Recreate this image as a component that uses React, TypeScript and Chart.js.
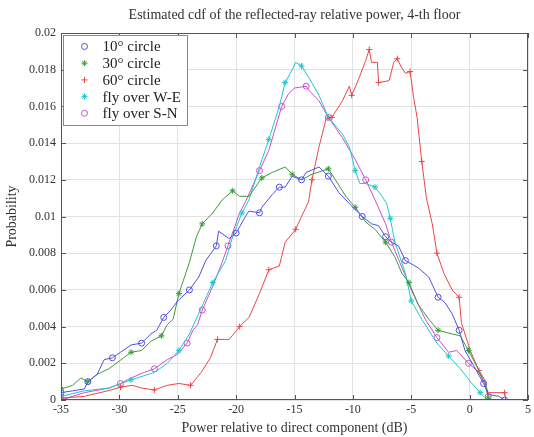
import React, { useEffect, useRef } from 'react';
import { Chart, registerables } from 'chart.js';

Chart.register(...registerables);

const titleText = 'Estimated cdf of the reflected-ray relative power, 4-th floor';
const xTitle = 'Power relative to direct component (dB)';
const yTitle = 'Probability';
const seriesNames = ['10\u00B0 circle', '30\u00B0 circle', '60\u00B0 circle', 'fly over W-E', 'fly over S-N'];
const seriesColors = ['rgb(80,80,230)', 'rgb(60,155,60)', 'rgb(235,70,70)', 'rgb(30,200,205)', 'rgb(200,80,210)'];
const seriesMarkers = ['circle', 'star', 'cross', 'star', 'circle'];

const xTicks = [-35, -30, -25, -20, -15, -10, -5, 0, 5];
const yTicks = [0, 0.002, 0.004, 0.006, 0.008, 0.01, 0.012, 0.014, 0.016, 0.018, 0.02];

// 10° circle
const blueX = [-35, -34, -33, -32.7, -31.9, -31.3, -30.6, -29.9, -29, -28.1, -27.3, -26.8, -26.2, -25.6, -25, -24, -23.2, -22.6, -21.7, -21.5, -20.6, -20, -19.2, -18.9, -18, -17.8, -16.9, -16.3, -15.8, -15.2, -14.4, -14, -12.9, -12.1, -11.2, -10.3, -9.2, -8.4, -7.8, -7.2, -6.7, -6.1, -5.5, -4.4, -3.5, -2.7, -2.1, -1.5, -0.9, -0.4, 0.5, 1.2, 1.6, 2.5, 3];
const blueY = [0.0004, 0.0005, 0.0006, 0.001, 0.0014, 0.0022, 0.0023, 0.0026, 0.003, 0.0031, 0.0036, 0.0038, 0.0045, 0.0049, 0.0054, 0.006, 0.0067, 0.0076, 0.0084, 0.0092, 0.0088, 0.0091, 0.01, 0.0103, 0.0102, 0.0105, 0.0112, 0.0116, 0.0116, 0.0122, 0.012, 0.0124, 0.0127, 0.0122, 0.0113, 0.0107, 0.01, 0.0096, 0.0095, 0.0089, 0.0086, 0.0084, 0.0076, 0.0072, 0.0067, 0.0056, 0.0053, 0.0047, 0.0038, 0.0027, 0.0017, 0.0009, 0.0003, 0.0002, 0];

// 30° circle
const greenX = [-35, -34, -33.3, -32.7, -31.9, -30.9, -29, -28.1, -27.3, -26.4, -25.9, -25.4, -24.9, -24, -23.4, -22.9, -22, -21.2, -20.3, -19.7, -18.9, -17.8, -16.9, -15.8, -15.2, -14.4, -13.5, -12.1, -11.5, -10.6, -9.8, -8.9, -8.1, -7.2, -6.4, -5.8, -5.2, -4.4, -3.5, -2.7, -1.5, -0.8, -0.1, 0.8, 1.3, 1.6];
const greenY = [0.0006, 0.0008, 0.0012, 0.001, 0.0014, 0.0017, 0.0026, 0.0027, 0.0032, 0.0035, 0.0041, 0.0044, 0.0058, 0.0075, 0.0089, 0.0096, 0.0102, 0.0109, 0.0114, 0.0111, 0.0111, 0.0121, 0.0124, 0.0127, 0.0123, 0.012, 0.0123, 0.0126, 0.012, 0.0111, 0.0105, 0.0097, 0.0093, 0.0086, 0.0078, 0.0069, 0.0064, 0.0052, 0.0044, 0.0038, 0.0036, 0.0035, 0.0027, 0.0016, 0.0011, 0.0001];

// 60° circle
const redX = [-35, -33, -31, -29.9, -28.9, -28.1, -27, -25.9, -24.9, -23.9, -23, -22.2, -21.6, -21, -20.6, -19.7, -18.9, -18, -17.2, -16.3, -15.8, -14.9, -14.4, -13.8, -13.5, -12.9, -12.3, -11.8, -10.9, -10.3, -10.1, -9.5, -8.9, -8.6, -8.4, -7.9, -7.8, -6.9, -6.5, -6.2, -5.9, -5.5, -5.1, -4.8, -4.5, -4.1, -3.7, -3.2, -2.8, -2.2, -1.5, -0.9, -0.7, 0.05, 0.8, 1.3, 1.6, 3, 3.1];
const redY = [0.0001, 0.0002, 0.0005, 0.0007, 0.0008, 0.00065, 0.00055, 0.0008, 0.0009, 0.0008, 0.0015, 0.0023, 0.0033, 0.0033, 0.0033, 0.004, 0.0045, 0.0058, 0.0071, 0.0073, 0.0086, 0.0093, 0.01, 0.0108, 0.012, 0.0138, 0.0153, 0.0154, 0.0163, 0.0171, 0.0166, 0.0175, 0.0185, 0.0191, 0.0184, 0.0184, 0.0173, 0.0174, 0.0184, 0.0186, 0.0182, 0.0178, 0.0179, 0.0165, 0.0154, 0.013, 0.011, 0.0096, 0.008, 0.0069, 0.006, 0.0056, 0.0042, 0.0027, 0.0016, 0.0009, 0.0004, 0.0004, 0];

// fly over W-E
const cyanX = [-35, -33, -30.9, -29, -27, -25.9, -24.9, -24, -23, -22, -20.9, -20.3, -19.5, -18.9, -18, -17.2, -16.6, -16.3, -15.8, -15.2, -14.9, -14.4, -13.8, -12.9, -12.1, -10.9, -10.3, -9.8, -9.4, -8.9, -8.1, -7.5, -7.1, -6.8, -6.4, -5.5, -5, -4.1, -2.8, -1.8, -0.8, 0.2, 0.9, 1.2, 1.5];
const cyanY = [0.0002, 0.0005, 0.00065, 0.0011, 0.0015, 0.002, 0.0027, 0.0036, 0.005, 0.0064, 0.0076, 0.0089, 0.0102, 0.0109, 0.0127, 0.0142, 0.0154, 0.016, 0.0173, 0.018, 0.0184, 0.0182, 0.0176, 0.0166, 0.0154, 0.0145, 0.0138, 0.0125, 0.0118, 0.0118, 0.0116, 0.0111, 0.0107, 0.0099, 0.0086, 0.0069, 0.0054, 0.0044, 0.0031, 0.0024, 0.0017, 0.0009, 0.0004, 0.0002, 0];

// fly over S-N
const magentaX = [-35, -33, -30.9, -29.9, -29, -27.9, -27, -25.9, -25, -24.2, -23.7, -23.3, -22.9, -22, -21.2, -20.7, -19.7, -19.2, -18, -17.2, -16.6, -16.1, -15.5, -15, -14, -13.8, -12.9, -12.1, -10.9, -9.8, -8.9, -8.1, -7.2, -6.7, -5, -3.8, -2.8, -1.8, -1.1, -0.1, 0.8, 1.3, 1.6];
const magentaY = [0, 0.0004, 0.00065, 0.0009, 0.0012, 0.0015, 0.0017, 0.0022, 0.0025, 0.0031, 0.0038, 0.0041, 0.0049, 0.0062, 0.0075, 0.0084, 0.0102, 0.0108, 0.0125, 0.0136, 0.0149, 0.016, 0.0167, 0.017, 0.0171, 0.0169, 0.0163, 0.0154, 0.0143, 0.0131, 0.012, 0.0109, 0.0096, 0.0086, 0.006, 0.0044, 0.0034, 0.0026, 0.0027, 0.002, 0.0015, 0.0009, 0.0002];

const seriesX = [blueX, greenX, redX, cyanX, magentaX];
const seriesY = [blueY, greenY, redY, cyanY, magentaY];

const FONT = '"Liberation Serif", "DejaVu Serif", serif';

function drawMarker(ctx: CanvasRenderingContext2D, style: string, x: number, y: number, r: number, color: string) {
  ctx.save();
  ctx.strokeStyle = color;
  ctx.lineWidth = 1;
  ctx.beginPath();
  if (style === 'circle') {
    ctx.arc(x, y, r, 0, Math.PI * 2);
  } else if (style === 'cross') {
    ctx.moveTo(x - r, y); ctx.lineTo(x + r, y);
    ctx.moveTo(x, y - r); ctx.lineTo(x, y + r);
  } else {
    ctx.moveTo(x - r, y); ctx.lineTo(x + r, y);
    ctx.moveTo(x, y - r); ctx.lineTo(x, y + r);
    const d = r * 0.707;
    ctx.moveTo(x - d, y - d); ctx.lineTo(x + d, y + d);
    ctx.moveTo(x - d, y + d); ctx.lineTo(x + d, y - d);
  }
  ctx.stroke();
  ctx.restore();
}

const framePlugin = {
  id: 'frameAndLegend',
  afterDraw(chart: any) {
    const { ctx, chartArea, scales } = chart;
    const { left, right, top, bottom } = chartArea;
    ctx.save();
    ctx.strokeStyle = '#555';
    ctx.lineWidth = 1;
    ctx.strokeRect(Math.round(left) + 0.5, Math.round(top) + 0.5, Math.round(right - left) - 1, Math.round(bottom - top) - 1);
    ctx.beginPath();
    xTicks.forEach((v) => {
      const px = Math.round(scales.x.getPixelForValue(v)) + 0.5;
      ctx.moveTo(px, bottom); ctx.lineTo(px, bottom - 5);
      ctx.moveTo(px, top); ctx.lineTo(px, top + 5);
    });
    yTicks.forEach((v) => {
      const py = Math.round(scales.y.getPixelForValue(v)) + 0.5;
      ctx.moveTo(left, py); ctx.lineTo(left + 5, py);
      ctx.moveTo(right, py); ctx.lineTo(right - 5, py);
    });
    ctx.stroke();

    // legend box
    const bx = Math.round(left) + 2.5;
    const by = Math.round(top) + 2.5;
    const bw = 124;
    const bh = 90;
    ctx.fillStyle = '#fff';
    ctx.fillRect(bx, by, bw, bh);
    ctx.strokeStyle = '#888';
    ctx.strokeRect(bx, by, bw, bh);
    ctx.font = '15px ' + FONT;
    ctx.textBaseline = 'middle';
    ctx.textAlign = 'left';
    seriesNames.forEach((name, i) => {
      const ry = by + 11 + i * 16.7;
      drawMarker(ctx, seriesMarkers[i], bx + 21, ry, 3, seriesColors[i]);
      ctx.fillStyle = '#222';
      ctx.fillText(name, bx + 39, ry + 1);
    });
    ctx.restore();
  },
};

export default function App() {
  const canvasRef = useRef<HTMLCanvasElement | null>(null);

  useEffect(() => {
    document.body.style.margin = '0';
    const canvas = canvasRef.current;
    if (!canvas) return;
    const datasets = seriesNames.map((name, i) => ({
      label: name,
      data: seriesX[i].map((x, j) => ({ x, y: seriesY[i][j] })),
      borderColor: seriesColors[i],
      backgroundColor: seriesColors[i],
      borderWidth: 1,
      tension: 0,
      pointStyle: seriesMarkers[i],
      pointRadius: (c: any) => (c.dataIndex % 3 === 0 ? 3 : 0),
      pointHoverRadius: 0,
      pointBorderColor: seriesColors[i],
      pointBackgroundColor: 'rgba(0,0,0,0)',
      pointBorderWidth: 1,
    }));

    const chart = new Chart(canvas, {
      type: 'line',
      data: { datasets },
      options: {
        responsive: false,
        animation: false,
        devicePixelRatio: 1,
        layout: { padding: { left: 0, right: 4, top: 0, bottom: 0 } },
        plugins: {
          legend: { display: false },
          tooltip: { enabled: false },
          title: {
            display: true,
            fullSize: false,
            text: titleText,
            color: '#333',
            font: { family: FONT, size: 14, weight: 'normal' },
            padding: { top: 7, bottom: 9.2 },
          },
        },
        scales: {
          x: {
            type: 'linear',
            min: -35,
            max: 5,
            afterFit: (s: any) => { s.height = 37; },
            afterBuildTicks: (s: any) => { s.ticks = xTicks.map((v) => ({ value: v })); },
            ticks: {
              color: '#333',
              font: { family: FONT, size: 12 },
              padding: 3,
              maxRotation: 0,
              autoSkip: false,
              callback: (v: any) => String(v),
            },
            grid: { color: '#e2e2e2', drawTicks: false },
            border: { display: false },
            title: {
              display: true,
              text: xTitle,
              color: '#333',
              font: { family: FONT, size: 14 },
              padding: { top: 0, bottom: 0.6 },
            },
          },
          y: {
            type: 'linear',
            min: 0,
            max: 0.02,
            afterFit: (s: any) => { s.width = 61; },
            afterBuildTicks: (s: any) => { s.ticks = yTicks.map((v) => ({ value: v })); },
            ticks: {
              color: '#333',
              font: { family: FONT, size: 12 },
              padding: 5,
              autoSkip: false,
              callback: (v: any) => String(parseFloat(Number(v).toFixed(4))),
            },
            grid: { color: '#e2e2e2', drawTicks: false },
            border: { display: false },
            title: {
              display: true,
              text: yTitle,
              color: '#333',
              font: { family: FONT, size: 14 },
              padding: { top: 3.6, bottom: 0 },
            },
          },
        },
      },
      plugins: [framePlugin],
    } as any);
    return () => chart.destroy();
  }, []);

  return (
    <div style={{ width: 534, height: 437, background: '#fff' }}>
      <canvas ref={canvasRef} width={534} height={437} />
    </div>
  );
}
